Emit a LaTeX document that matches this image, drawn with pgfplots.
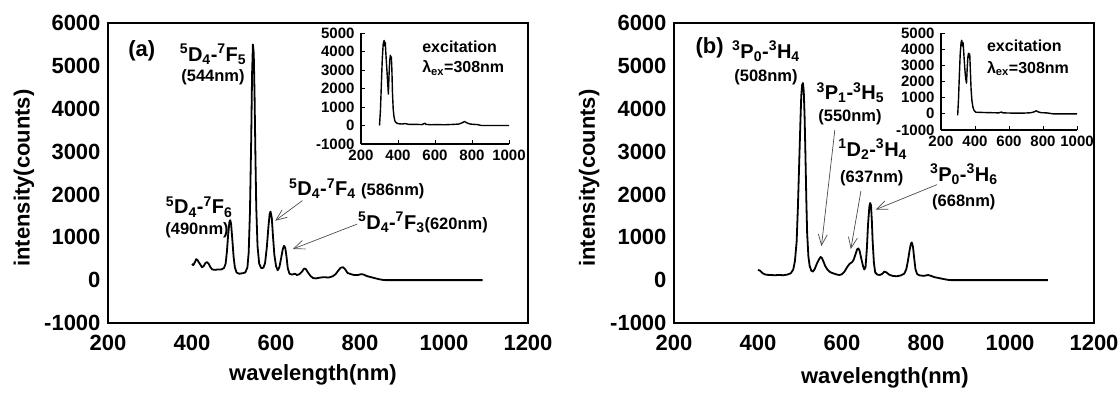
\documentclass[border=0pt]{standalone}
\usepackage{fontspec}
\setmainfont{Liberation Sans}
\usepackage{pgfplots}
\usepackage{pgfplotstable}
\pgfplotsset{compat=1.18}
\usetikzlibrary{arrows.meta}

\pgfplotstableread{
nm val
400 380
403 350
407 420
410 490
413 470
416 420
420 360
424 300
428 330
432 400
436 420
440 380
444 300
448 250
455 240
462 250
470 250
476 280
480 380
483 650
486 1050
489 1350
491 1400
493 1320
496 950
499 550
502 300
506 180
512 150
520 160
527 180
532 300
535 650
538 1600
541 3300
543 4800
545 5500
547 5300
549 4300
551 2900
553 1700
556 800
560 380
565 280
570 290
574 400
578 750
582 1250
585 1550
587 1600
590 1450
593 1000
596 600
600 330
604 230
608 300
612 500
616 720
619 800
622 760
625 550
628 280
632 150
638 130
645 150
650 120
656 140
662 200
667 270
671 260
676 180
682 100
688 50
695 40
705 60
715 70
725 60
735 90
742 140
748 220
754 290
760 300
765 250
770 170
778 140
786 120
795 120
803 140
809 130
815 100
822 80
830 60
838 40
846 20
855 5
862 0
900 0
1000 0
1092 0
}\specA

\pgfplotstableread{
nm val
400 240
405 220
410 170
415 140
420 125
430 120
440 115
450 120
460 115
470 130
478 160
484 250
488 450
492 900
495 1700
498 2700
501 3700
503 4300
505 4550
507 4600
509 4400
511 3800
513 2900
515 1900
517 1100
520 550
523 330
527 220
531 200
535 260
540 380
545 480
549 540
552 520
556 430
560 330
565 250
570 200
576 170
582 150
588 130
594 120
600 140
606 200
612 300
618 380
624 420
628 480
632 600
636 720
639 740
642 680
646 500
650 330
653 250
656 300
659 700
662 1300
665 1700
667 1800
669 1750
671 1400
673 900
676 400
679 180
684 130
690 120
696 150
701 200
706 180
712 130
720 100
730 90
740 110
748 150
753 250
757 450
761 700
764 850
766 880
769 780
772 500
775 250
779 140
785 110
795 100
805 120
812 100
820 70
830 50
840 30
850 10
860 0
1000 0
1090 0
}\specB

\pgfplotstableread{
nm val
300 0
305 800
310 2200
315 3600
320 4400
325 4600
328 4300
331 4500
335 3800
340 3000
345 2200
348 1700
351 2600
355 3500
359 3800
362 3600
364 3700
367 3000
370 1800
374 900
378 500
383 250
390 150
400 100
420 80
440 100
460 60
500 60
530 50
545 120
552 60
580 40
600 50
650 40
700 60
730 80
750 160
760 220
770 150
790 80
810 60
830 50
850 0
1000 0
}\excA

\pgfplotstableread{
nm val
298 -100
303 900
308 2400
313 3700
318 4400
322 4550
326 4200
330 4400
335 3600
340 2800
345 2200
350 1900
354 2800
358 3500
362 3750
366 3500
369 3700
373 2600
377 1500
382 800
388 400
395 200
405 100
430 90
460 80
500 70
540 60
555 110
565 60
600 50
650 40
700 50
730 70
750 130
760 190
772 120
790 70
820 60
840 30
860 0
1000 0
}\excB

\newcommand{\tsz}{\fontsize{20}{22}\selectfont\bfseries}
\newcommand{\wsz}{\fontsize{16.5}{18}\selectfont\bfseries}
\newcommand{\isz}{\fontsize{16}{18}\selectfont\bfseries}

\tikzset{arr/.style={gray!60!black, line width=0.7pt, -{Straight Barb[length=11pt,width=9pt]}}}

\pgfplotsset{
  mainax/.style={
    scale only axis, width=420pt, height=300pt,
    xmin=200, xmax=1200, ymin=-1000, ymax=6000,
    enlargelimits=false,
    xtick={200,400,600,800,1000,1200},
    xticklabels={200,400,600,800,1000,1200},
    ytick={-1000,0,1000,2000,3000,4000,5000,6000},
    yticklabels={-1000,0,1000,2000,3000,4000,5000,6000},
    major tick length=0pt,
    axis line style={line width=1.4pt},
    tick label style={font=\fontsize{22}{24}\selectfont\bfseries},
    xticklabel style={yshift=-9pt},
    yticklabel style={xshift=-4pt},
    label style={font=\fontsize{22}{24}\selectfont\bfseries},
    clip=false,
  },
  inax/.style={
    scale only axis,
    xmin=200, xmax=1000, ymin=-1000, ymax=5000,
    enlargelimits=false,
    axis x line=bottom, axis y line=left,
    axis line style={-, line width=1.2pt},
    xtick={200,400,600,800,1000},
    xticklabels={200,400,600,800,1000},
    ytick={-1000,0,1000,2000,3000,4000,5000},
    yticklabels={-1000,0,1000,2000,3000,4000,5000},
    tick align=inside,
    major tick length=4pt,
    tick style={line width=1pt, black},
    tick label style={font=\fontsize{15}{16}\selectfont\bfseries},
    xticklabel style={yshift=-2pt},
    yticklabel style={xshift=-3pt},
    clip=false,
  },
}

\begin{document}
\begin{tikzpicture}
\path[use as bounding box] (0,0) rectangle (1120pt,392pt);

% ---------------- panel (a) ----------------
\begin{axis}[mainax, at={(108pt,69pt)}, anchor=south west,
  xlabel={wavelength(nm)}, ylabel={intensity(counts)},
  xlabel style={at={(axis description cs:0.488,-0.173)}, anchor=center},
  ylabel style={at={(axis description cs:-0.2,0.483)}, anchor=center}]
\addplot[black, line width=1.8pt, line join=round, mark=none] table[x=nm,y=val] {\specA};
\node[anchor=base west, font=\fontsize{22}{24}\selectfont\bfseries] at (axis cs:240,5226) {(a)};
\node[anchor=base, font=\tsz] at (axis cs:450,5110) {\textsuperscript{5}D\textsubscript{4}-\textsuperscript{7}F\textsubscript{5}};
\node[anchor=base, font=\wsz] at (axis cs:450,4643) {(544nm)};
\node[anchor=base, font=\tsz] at (axis cs:417,1545) {\textsuperscript{5}D\textsubscript{4}-\textsuperscript{7}F\textsubscript{6}};
\node[anchor=base, font=\wsz] at (axis cs:412,1073) {(490nm)};
\node[anchor=base west, font=\tsz] at (axis cs:623,1974) {\textsuperscript{5}D\textsubscript{4}-\textsuperscript{7}F\textsubscript{4} {\wsz (586nm)}};
\node[anchor=base west, font=\tsz] at (axis cs:787,1190) {\textsuperscript{5}D\textsubscript{4}-\textsuperscript{7}F\textsubscript{3}{\wsz (620nm)}};
\draw[arr] (axis cs:663,1857) -- (axis cs:598,1386);
\draw[arr] (axis cs:793,1307) -- (axis cs:640,726);
\node[anchor=base west, font=\isz] at (axis cs:940,5306) {excitation};
\node[anchor=base west, font=\isz] at (axis cs:940,4837) {λ\textsubscript{ex}=308nm};
\end{axis}

\begin{axis}[inax, at={(361pt,248pt)}, anchor=south west, width=148pt, height=111pt]
\addplot[black, line width=1.4pt, line join=round, mark=none] table[x=nm,y=val] {\excA};
\end{axis}

% ---------------- panel (b) ----------------
\begin{axis}[mainax, at={(674pt,69pt)}, anchor=south west,
  xlabel={wavelength(nm)}, ylabel={intensity(counts)},
  xlabel style={at={(axis description cs:0.502,-0.183)}, anchor=center},
  ylabel style={at={(axis description cs:-0.202,0.483)}, anchor=center}]
\addplot[black, line width=1.8pt, line join=round, mark=none] table[x=nm,y=val] {\specB};
\node[anchor=base west, font=\fontsize{22}{24}\selectfont\bfseries] at (axis cs:243,5297) {(b)};
\node[anchor=base, font=\tsz] at (axis cs:419,5180) {\textsuperscript{3}P\textsubscript{0}-\textsuperscript{3}H\textsubscript{4}};
\node[anchor=base, font=\wsz] at (axis cs:419,4636) {(508nm)};
\node[anchor=base, font=\tsz] at (axis cs:620,4209) {\textsuperscript{3}P\textsubscript{1}-\textsuperscript{3}H\textsubscript{5}};
\node[anchor=base, font=\wsz] at (axis cs:619,3710) {(550nm)};
\node[anchor=base, font=\tsz] at (axis cs:673,2893) {\textsuperscript{1}D\textsubscript{2}-\textsuperscript{3}H\textsubscript{4}};
\node[anchor=base, font=\wsz] at (axis cs:671,2268) {(637nm)};
\node[anchor=base, font=\tsz] at (axis cs:890,2310) {\textsuperscript{3}P\textsubscript{0}-\textsuperscript{3}H\textsubscript{6}};
\node[anchor=base, font=\wsz] at (axis cs:890,1727) {(668nm)};
\draw[arr] (axis cs:583,3509) -- (axis cs:551,793);
\draw[arr] (axis cs:645,2077) -- (axis cs:621,723);
\draw[arr] (axis cs:826,2228) -- (axis cs:680,1645);
\node[anchor=base west, font=\isz] at (axis cs:937,5336) {excitation};
\node[anchor=base west, font=\isz] at (axis cs:937,4830) {λ\textsubscript{ex}=308nm};
\end{axis}

\begin{axis}[inax, at={(941pt,262pt)}, anchor=south west, width=136pt, height=97pt]
\addplot[black, line width=1.4pt, line join=round, mark=none] table[x=nm,y=val] {\excB};
\end{axis}
\end{tikzpicture}
\end{document}
